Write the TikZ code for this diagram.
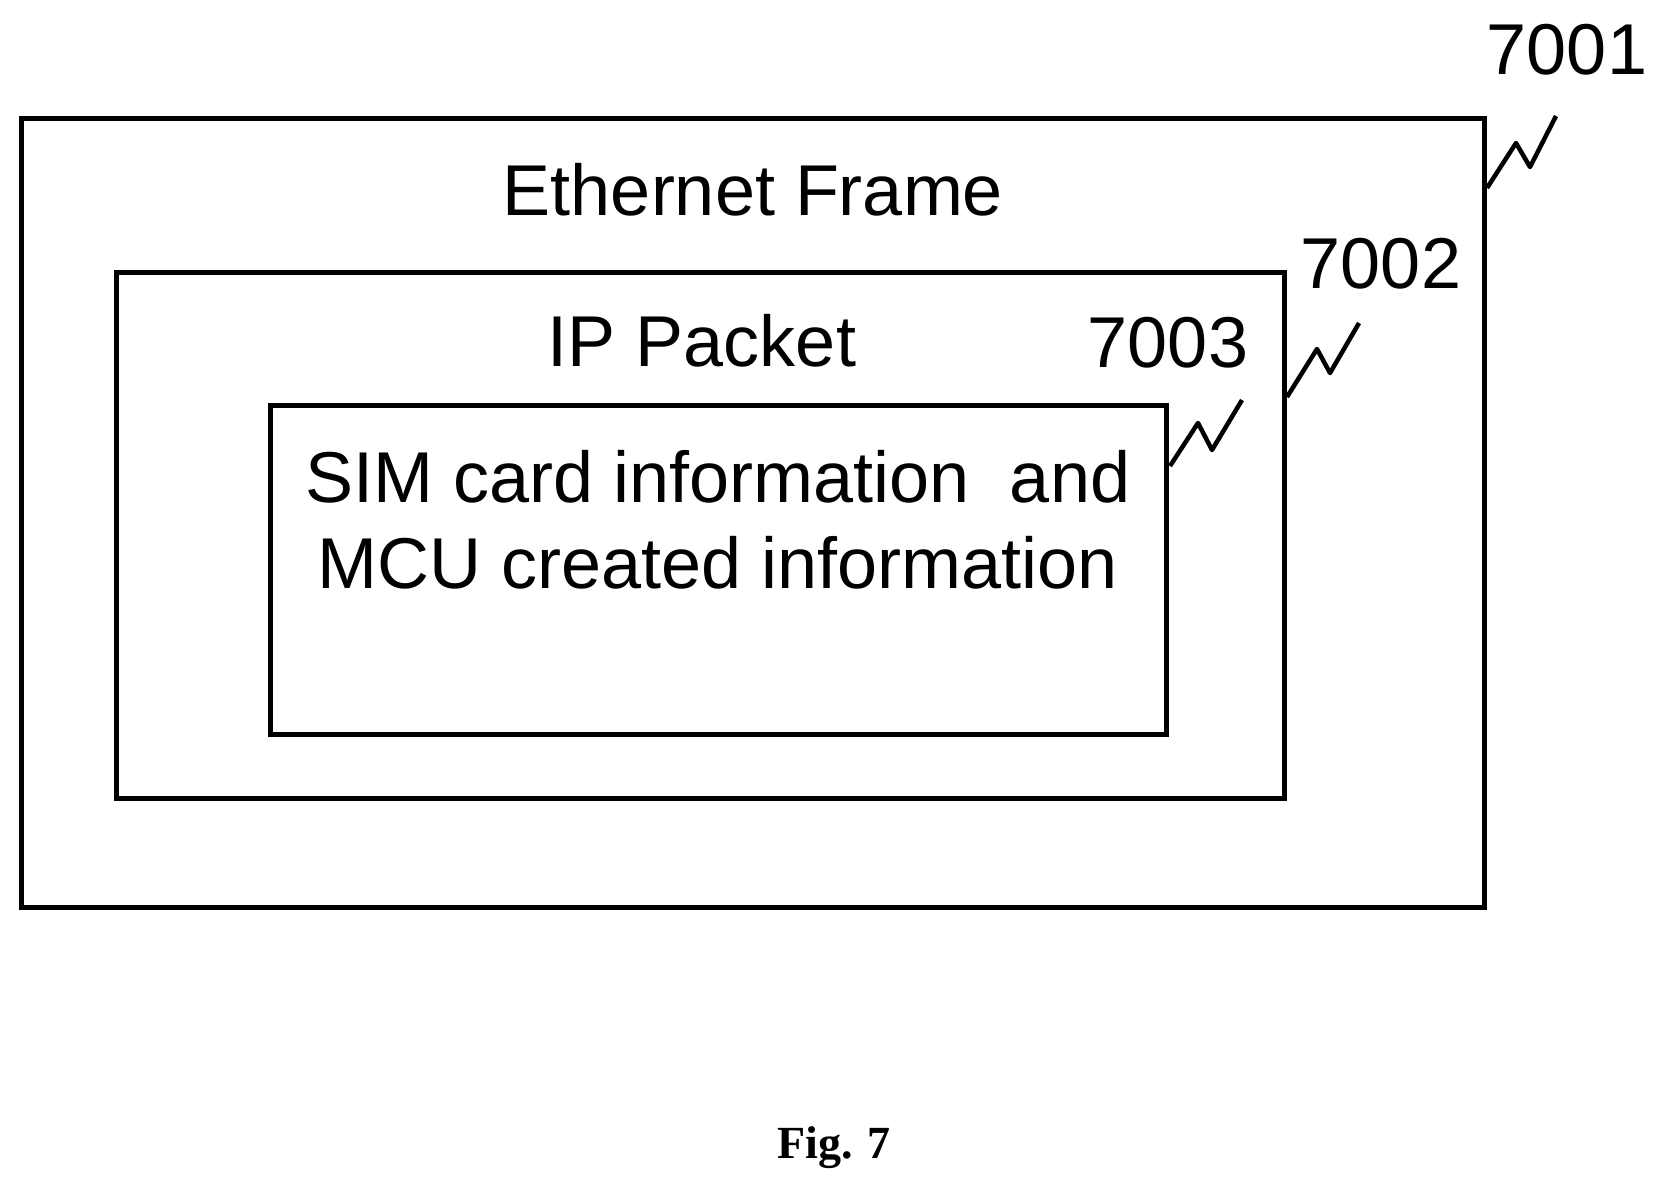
\documentclass[tikz,border=0pt]{standalone}
\usepackage{fontspec}
\setmainfont{Liberation Sans}
\newfontfamily\figfont{Liberation Serif}
\usetikzlibrary{positioning}
\tikzset{
    frame/.style={draw, line width=5pt},
    lead/.style={line width=4.5pt, line join=round},
    every node/.style={font=\fontsize{72}{86}\selectfont}
}
\begin{document}
\begin{tikzpicture}[x=1pt,y=-1pt]
    \useasboundingbox (0,0) rectangle (1660,1195);

    % Nested boxes
    \draw[frame] (21,118) rectangle (1484,907);
    \draw[frame] (116,272) rectangle (1284,798);
    \draw[frame] (270,405) rectangle (1166,734);

    % Box titles
    \node (eth) at (753,190) {Ethernet Frame};
    \node (ip) at (702,341) {IP Packet};
    \node[align=center] (sim) at (718,520) {SIM card information~~and\\MCU created information};

    % Reference numerals
    \node (n1) at (1567,50) {7001};
    \node (n2) at (1381,264) {7002};
    \node (n3) at (1168,343) {7003};

    % Leader lines
    \draw[lead] (1487,188) -- (1516,143) -- (1530,167) -- (1556,116);
    \draw[lead] (1287,397) -- (1317,349) -- (1330,373) -- (1359,323);
    \draw[lead] (1170,466) -- (1198,423) -- (1212,450) -- (1242,400);

    % Caption
    \node[font=\figfont\bfseries\fontsize{46}{55}\selectfont] (cap) at (834,1148) {Fig. 7};
\end{tikzpicture}
\end{document}
